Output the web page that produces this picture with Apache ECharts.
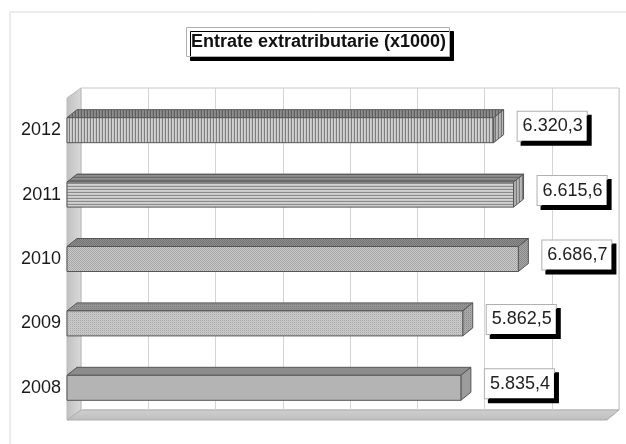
<!DOCTYPE html>
<html>
<head>
<meta charset="utf-8">
<script src="https://cdn.jsdelivr.net/npm/echarts@6/dist/echarts.min.js"></script>
<style>
html,body{margin:0;padding:0;background:#fff;}
#chart{width:626px;height:444px;}
</style>
</head>
<body>
<div id="chart"></div>
<script>
// ---- data ----
var titleText = 'Entrate extratributarie (x1000)';
var categories = ['2008', '2009', '2010', '2011', '2012'];
var values = [5835.4, 5862.5, 6686.7, 6615.6, 6320.3];
var axisMax = 8000;
var axisStep = 1000;

function fmtIt(v) {
  var s = v.toFixed(1).split('.');
  var intPart = s[0].replace(/\B(?=(\d{3})+(?!\d))/g, '.');
  return intPart + ',' + s[1];
}

// ---- fill patterns (styles) ----
function makeTile(w, h, pix) {
  var c = document.createElement('canvas');
  c.width = w; c.height = h;
  var ctx = c.getContext('2d');
  for (var y = 0; y < h; y++) for (var x = 0; x < w; x++) {
    ctx.fillStyle = pix[y][x];
    ctx.fillRect(x, y, 1, 1);
  }
  return { image: c, repeat: 'repeat' };
}
var styles = [
  // 2008 solid
  { front: '#b4b4b4', top: '#8c8c8c', side: '#9c9c9c' },
  // 2009 fine dots
  { front: makeTile(2, 2, [['#a8a8a8', '#cacaca'], ['#cacaca', '#c2c2c2']]),
    top: makeTile(2, 2, [['#7a7a7a', '#979797'], ['#979797', '#8e8e8e']]),
    side: makeTile(2, 2, [['#8c8c8c', '#aaaaaa'], ['#aaaaaa', '#a2a2a2']]) },
  // 2010 checker
  { front: makeTile(2, 2, [['#a4a4a4', '#cbcbcb'], ['#cbcbcb', '#a4a4a4']]),
    top: makeTile(2, 2, [['#737373', '#8e8e8e'], ['#8e8e8e', '#737373']]),
    side: makeTile(2, 2, [['#888', '#a8a8a8'], ['#a8a8a8', '#888']]) },
  // 2011 horizontal stripes
  { front: makeTile(1, 3, [['#8a8a8a'], ['#d2d2d2'], ['#c8c8c8']]),
    top: makeTile(1, 3, [['#6a6a6a'], ['#8e8e8e'], ['#868686']]),
    side: makeTile(3, 1, [['#7a7a7a', '#b8b8b8', '#adadad']]) },
  // 2012 vertical stripes
  { front: makeTile(3, 1, [['#7e7e7e', '#d2d2d2', '#c6c6c6']]),
    top: makeTile(3, 1, [['#5e5e5e', '#8e8e8e', '#848484']]),
    side: makeTile(3, 1, [['#777', '#b8b8b8', '#adadad']]) }
];

var barH = 25, dx = 10, dy = 8;

var chart = echarts.init(document.getElementById('chart'), null, { renderer: 'canvas' });

var option = {
  animation: false,
  backgroundColor: '#fff',
  title: {
    text: titleText,
    left: 186, top: 27,
    padding: [5, 4, 5, 5],
    backgroundColor: '#fff',
    borderColor: '#b0b0b0',
    borderWidth: 1,
    shadowColor: '#000',
    shadowBlur: 0,
    shadowOffsetX: 4,
    shadowOffsetY: 4,
    textStyle: { fontFamily: 'Liberation Sans, Arial, sans-serif', fontSize: 18, fontWeight: 'bold', color: '#111', lineHeight: 20 }
  },
  graphic: [
    { type: 'rect', shape: { x: 10, y: 12, width: 630, height: 440 }, style: { fill: 'none', stroke: '#d8d8d8', lineWidth: 1 }, silent: true, z: -10 },
    // left wall
    { type: 'polygon', shape: { points: [[67, 98], [81, 88], [81, 410], [67, 420]] },
      style: { fill: new echarts.graphic.LinearGradient(0, 0, 1, 0, [{ offset: 0, color: '#c0c0c0' }, { offset: 1, color: '#dadada' }]), stroke: '#b8b8b8', lineWidth: 1 }, silent: true, z: -1 },
    // floor
    { type: 'polygon', shape: { points: [[67, 420], [607, 420], [619, 410], [81, 410]] },
      style: { fill: new echarts.graphic.LinearGradient(0, 0, 0, 1, [{ offset: 0, color: '#d0d0d0' }, { offset: 1, color: '#bdbdbd' }]), stroke: '#adadad', lineWidth: 1 }, silent: true, z: -1 }
  ],
  grid: [
    { left: 67, right: 19, top: 98, bottom: 24, show: false },
    { left: 81, right: 7, top: 88, bottom: 34, show: true, backgroundColor: '#fff', borderColor: '#c8c8c8', borderWidth: 1, z: -5 }
  ],
  xAxis: [
    { gridIndex: 0, type: 'value', min: 0, max: axisMax, interval: axisStep, show: false },
    { gridIndex: 1, type: 'value', min: 0, max: axisMax, interval: axisStep,
      axisLine: { show: false }, axisTick: { show: false }, axisLabel: { show: false },
      splitLine: { show: true, lineStyle: { color: '#d4d4d4', width: 1 } } }
  ],
  yAxis: [
    { gridIndex: 0, type: 'category', data: categories,
      axisLine: { show: false }, axisTick: { show: false },
      axisLabel: { margin: 6, fontFamily: 'Liberation Sans, Arial, sans-serif', fontSize: 18, color: '#1a1a1a' } },
    { gridIndex: 1, type: 'category', data: categories, show: false }
  ],
  series: [{
    type: 'custom',
    xAxisIndex: 0, yAxisIndex: 0,
    data: values.map(function (v, i) { return [v, i]; }),
    encode: { x: 0, y: 1 },
    renderItem: function (params, api) {
      var v = api.value(0), i = api.value(1);
      var p0 = api.coord([0, i]);
      var p1 = api.coord([v, i]);
      var st = styles[i];
      var yt = p0[1] - barH / 2, yb = yt + barH;
      var x0 = p0[0], x1 = p1[0];
      return {
        type: 'group',
        children: [
          { type: 'polygon', shape: { points: [[x0, yt], [x1, yt], [x1 + dx, yt - dy], [x0 + dx, yt - dy]] },
            style: { fill: st.top, stroke: '#555', lineWidth: 1 } },
          { type: 'polygon', shape: { points: [[x1, yt], [x1 + dx, yt - dy], [x1 + dx, yb - dy], [x1, yb]] },
            style: { fill: st.side, stroke: '#555', lineWidth: 1 } },
          { type: 'rect', shape: { x: x0, y: yt, width: x1 - x0, height: barH },
            style: { fill: st.front, stroke: '#555', lineWidth: 1 } },
          { type: 'text', x: x1 + 24, y: p0[1] - 4,
            style: {
              text: fmtIt(v), fontFamily: 'Liberation Sans, Arial, sans-serif', fontSize: 18, fill: '#222',
              verticalAlign: 'middle', align: 'left',
              backgroundColor: '#fff', borderColor: '#b0b0b0', borderWidth: 1,
              padding: [6, 4, 5, 5],
              shadowColor: '#000', shadowBlur: 0, shadowOffsetX: 4, shadowOffsetY: 4
            } }
        ]
      };
    }
  }]
};
chart.setOption(option);
</script>
</body>
</html>
